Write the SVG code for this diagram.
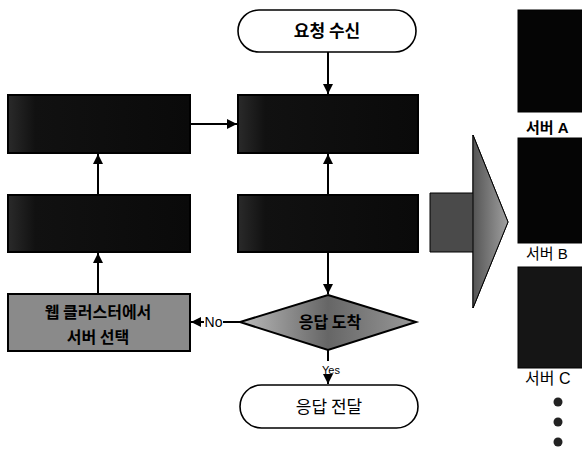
<svg xmlns="http://www.w3.org/2000/svg" width="582" height="451" viewBox="0 0 582 451">
<defs>
<style>
.term{fill:#fff;stroke:#000;stroke-width:1.6}
.dark{stroke:#000;stroke-width:2;fill:url(#dg)}
.t{font-family:"Noto Sans CJK KR","Liberation Sans",sans-serif;fill:#000;text-anchor:middle}
.b{font-weight:bold}
.lab{font-family:"Liberation Sans","Noto Sans CJK KR",sans-serif;fill:#000}
.edge{stroke:#000;stroke-width:2;fill:none}
</style>
<marker id="ah" viewBox="0 0 10 10" refX="10" refY="5" markerWidth="5" markerHeight="5" orient="auto-start-reverse">
<path d="M0,0L10,5L0,10z" fill="#000"/>
</marker>
<linearGradient id="dg" x1="0" y1="0" x2="1" y2="0">
<stop offset="0" stop-color="#2a2a2a"/>
<stop offset="0.15" stop-color="#111"/>
<stop offset="1" stop-color="#0a0a0a"/>
</linearGradient>
<linearGradient id="diag" x1="0" y1="0" x2="1" y2="0">
<stop offset="0" stop-color="#bbb"/>
<stop offset="0.5" stop-color="#666"/>
<stop offset="1" stop-color="#999"/>
</linearGradient>
<linearGradient id="head" x1="0" y1="0" x2="1" y2="0">
<stop offset="0" stop-color="#555"/>
<stop offset="1" stop-color="#a0a0a0"/>
</linearGradient>
</defs>

<g id="connectors">
<line class="edge" x1="328" y1="52" x2="328" y2="94" marker-end="url(#ah)"/>
<line class="edge" x1="328" y1="195" x2="328" y2="154" marker-end="url(#ah)"/>
<line class="edge" x1="328" y1="252" x2="328" y2="294" marker-end="url(#ah)"/>
<line class="edge" x1="190" y1="124" x2="237" y2="124" marker-end="url(#ah)"/>
<line class="edge" x1="98" y1="195" x2="98" y2="154" marker-end="url(#ah)"/>
<line class="edge" x1="98" y1="294" x2="98" y2="253" marker-end="url(#ah)"/>
<line class="edge" x1="240" y1="322" x2="223" y2="322"/>
<line class="edge" x1="204" y1="322" x2="191" y2="322" marker-end="url(#ah)"/>
<text class="lab" x="213.5" y="327" font-size="14" text-anchor="middle">No</text>
<line class="edge" x1="328" y1="350" x2="328" y2="361"/>
<text class="lab" x="331" y="374" font-size="11" text-anchor="middle">Yes</text>
<line class="edge" x1="328" y1="377" x2="328" y2="384" marker-end="url(#ah)"/>
</g>

<g id="n-request">
<rect class="term" x="238" y="10" width="178" height="42" rx="21"/>
<text class="t b" x="327" y="37" font-size="17">요청 수신</text>
</g>
<g id="n-mid1"><rect class="dark" x="238" y="95" width="180" height="58"/></g>
<g id="n-mid2"><rect class="dark" x="238" y="195" width="180" height="57"/></g>
<g id="n-left1"><rect class="dark" x="8" y="95" width="182" height="58"/></g>
<g id="n-left2"><rect class="dark" x="8" y="195" width="182" height="57"/></g>
<g id="n-select">
<rect x="8" y="294" width="182" height="57" fill="#8a8a8a" stroke="#000" stroke-width="2"/>
<text class="t b" x="98" y="318" font-size="16">웹 클러스터에서</text>
<text class="t b" x="98" y="343" font-size="16">서버 선택</text>
</g>
<g id="n-arrived">
<polygon points="328,295 416,322 328,350 240,322" fill="url(#diag)" stroke="#000" stroke-width="2"/>
<text class="t b" x="330" y="328" font-size="16">응답 도착</text>
</g>
<g id="n-response">
<rect class="term" x="240" y="385" width="178" height="43" rx="21.5"/>
<text class="t" x="329" y="413" font-size="17">응답 전달</text>
</g>

<g id="big-arrow">
<polygon points="430,193 473,193 473,135 508,222 473,308 473,252 430,252" fill="#4a4a4a" stroke="#000" stroke-width="1"/>
<polygon points="473,135 508,222 473,308" fill="url(#head)" stroke="#000" stroke-width="1"/>
</g>

<g id="server-a">
<rect x="518" y="10" width="66" height="102" fill="#050505" stroke="#000" stroke-width="1"/>
<text class="lab b" x="526" y="133" font-size="15">서버 A</text>
</g>
<g id="server-b">
<rect x="518" y="138" width="66" height="105" fill="#050505" stroke="#000" stroke-width="1"/>
<text class="lab" x="526" y="259" font-size="15">서버 B</text>
</g>
<g id="server-c">
<rect x="518" y="267" width="66" height="101" fill="#151515" stroke="#000" stroke-width="1"/>
<text class="lab" x="525" y="384" font-size="16">서버 C</text>
</g>
<g id="dots" fill="#222">
<circle cx="558" cy="402" r="4.5"/>
<circle cx="558" cy="422" r="4.5"/>
<circle cx="558" cy="442" r="4.5"/>
</g>
</svg>
